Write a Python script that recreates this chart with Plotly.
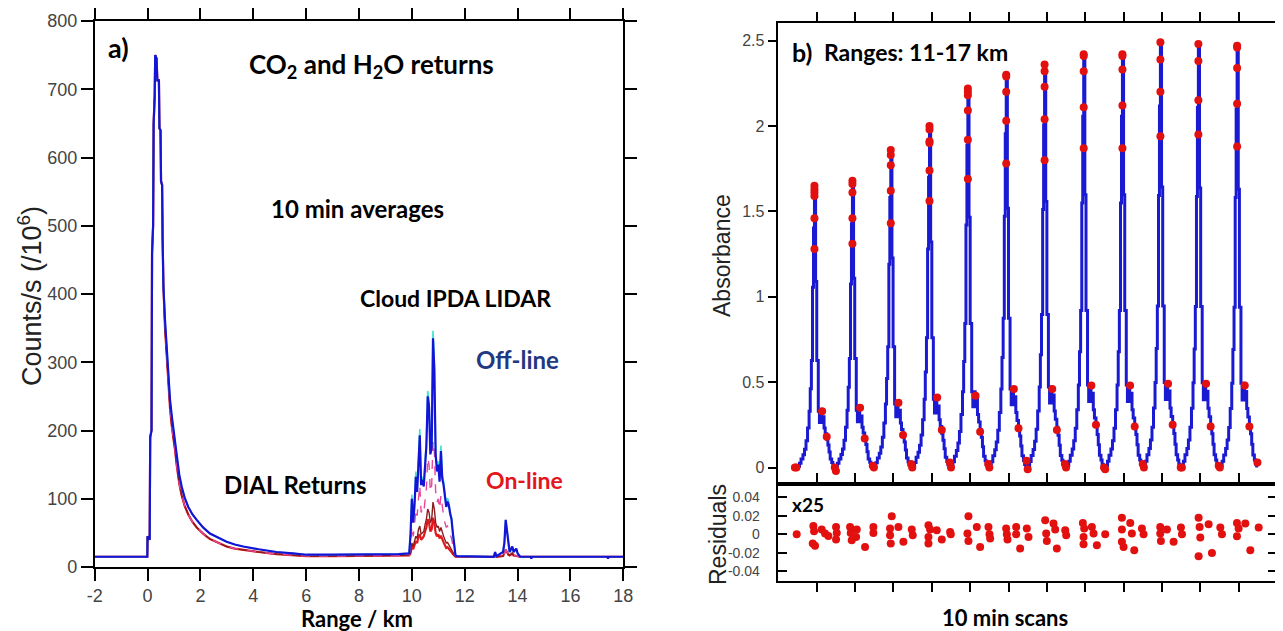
import plotly.graph_objects as go

W, H = 1283, 631          # browser window
OFF = 8                   # page body margin offset
FW, FH = W - OFF, H - OFF  # figure size

# ---------------- Panel a) : lidar returns ----------------
range_dial = [-2.0, -0.01, 0.0, 0.08, 0.10, 0.15, 0.17, 0.21, 0.23, 0.27, 0.29, 0.34, 0.37, 0.43, 0.45, 0.49,
              0.51, 0.55, 0.57, 0.60, 0.66, 0.72, 0.80, 0.85, 0.92, 0.97, 1.05, 1.10, 1.20, 1.29, 1.40, 1.54,
              1.70, 1.86, 2.10, 2.36, 2.70, 2.99, 3.30, 3.62, 4.20, 4.88, 5.50, 6.02, 7.00, 8.00, 9.00, 9.50, 9.90]
offline_dial = [15, 15, 45, 40, 190, 200, 460, 500, 650, 690, 750, 745, 713, 713, 643, 640, 565, 560, 480, 411,
                362, 323, 270, 245, 220, 206, 180, 162, 135, 118, 102, 88, 77, 69, 58, 49, 42, 37, 33, 30,
                26, 22, 20, 18, 18, 18, 18, 19, 20]
online_dial = [15, 15, 45, 40, 190, 200, 460, 500, 650, 690, 750, 745, 713, 713, 643, 640, 565, 560, 480, 411,
               350, 310, 258, 232, 205, 192, 168, 150, 122, 105, 90, 77, 66, 58, 49, 41, 35, 30, 27, 25,
               22, 19, 17, 16, 16, 16, 16, 17, 17]

range_cloud = [9.95, 10.0, 10.05, 10.1, 10.15, 10.2, 10.25, 10.3, 10.35, 10.4, 10.45, 10.5, 10.55, 10.6, 10.65,
               10.7, 10.75, 10.8, 10.85, 10.9, 10.95, 11.0, 11.05, 11.1, 11.15, 11.2, 11.25, 11.3, 11.35, 11.4,
               11.45, 11.5, 11.55, 11.6, 11.65]
offline_cloud = [48, 100, 65, 90, 132, 110, 157, 193, 120, 128, 118, 150, 178, 250, 235, 165, 175, 335, 290, 165,
                 140, 150, 125, 170, 130, 120, 105, 88, 96, 90, 78, 70, 50, 30, 17]
offline2_cloud = [50, 106, 68, 95, 140, 115, 162, 202, 124, 132, 122, 156, 186, 258, 242, 170, 180, 346, 298, 170,
                  145, 155, 130, 178, 135, 125, 108, 92, 101, 94, 81, 72, 52, 31, 17]
online_mag_cloud = [30, 60, 45, 60, 85, 75, 100, 120, 80, 85, 80, 100, 115, 160, 150, 110, 120, 185, 170, 110,
                    95, 100, 85, 105, 85, 75, 65, 58, 60, 55, 48, 42, 32, 22, 16]
online_dark_cloud = [22, 35, 30, 38, 45, 42, 55, 60, 48, 50, 52, 62, 70, 85, 80, 65, 70, 95, 85, 65,
                     58, 60, 52, 58, 50, 45, 40, 35, 36, 33, 30, 27, 22, 18, 15]
online_cloud = [20, 30, 26, 33, 38, 35, 45, 48, 40, 42, 45, 52, 58, 70, 65, 52, 55, 72, 65, 50,
                45, 48, 42, 46, 40, 36, 32, 28, 29, 27, 25, 22, 19, 16, 15]

range_tail = [11.70, 12.50, 13.10, 13.15, 13.20, 13.45, 13.50, 13.55, 13.60, 13.65, 13.70, 13.80, 13.85, 13.95,
              14.00, 14.10, 14.50, 14.52, 14.54, 15.50, 17.40, 17.42, 17.44, 18.00]
offline_tail = [16, 15, 15, 22, 16, 22, 35, 69, 49, 37, 22, 30, 22, 27, 20, 15, 15, 12, 15, 15, 15, 12, 15, 15]
online_tail = [15, 15, 15, 17, 15, 16, 20, 25, 22, 18, 17, 20, 17, 16, 15, 15, 15, 15, 15, 15, 15, 15, 15, 15]

x_ticks_a = [-2, 0, 2, 4, 6, 8, 10, 12, 14, 16, 18]
y_ticks_a = [0, 100, 200, 300, 400, 500, 600, 700, 800]

# ---------------- Panel b) : absorbance scans ----------------
scan_centers = [0.94, 1.93, 2.93, 3.94, 4.94, 5.94, 6.94, 7.96, 8.97, 9.96, 10.95, 11.96]
peak_heights = [1.65, 1.68, 1.86, 2.00, 2.22, 2.30, 2.36, 2.42, 2.42, 2.49, 2.48, 2.47]
profile_offset = [-0.50, -0.44, -0.39, -0.35, -0.30, -0.26, -0.22, -0.18, -0.14, -0.11,
                  -0.08, -0.05, -0.025, 0.0, 0.03, 0.06, 0.10, 0.13, 0.16, 0.19,
                  0.22, 0.25, 0.28, 0.32, 0.35, 0.38, 0.41, 0.45, 0.48, 0.51]
profile_shape = [0.0, 0.005, 0.015, 0.03, 0.045, 0.065, 0.095, 0.14, 0.2, 0.28,
                 0.38, 0.64, 0.85, 1.0, 0.66, 0.38, 0.2, 0.16, 0.2, 0.16,
                 0.18, 0.14, 0.12, 0.1, 0.08, 0.055, 0.03, 0.018, 0.008, 0.0]

start_x = [0.43, 0.47]
start_vals = [0.0, 0.0]
peak_points = [[1.65, 1.63, 1.61, 1.59, 1.46, 1.28],
               [1.68, 1.66, 1.61, 1.46, 1.31],
               [1.86, 1.83, 1.77, 1.62, 1.43],
               [2.00, 1.98, 1.91, 1.90, 1.74, 1.56],
               [2.22, 2.20, 2.18, 2.09, 1.92, 1.69],
               [2.30, 2.29, 2.20, 2.03, 1.78],
               [2.36, 2.32, 2.23, 2.04, 1.80],
               [2.42, 2.41, 2.32, 2.11, 1.87],
               [2.42, 2.41, 2.33, 2.12, 1.87],
               [2.49, 2.39, 2.20, 1.94],
               [2.48, 2.38, 2.15, 1.95],
               [2.47, 2.46, 2.34, 2.13, 1.88]]
shoulder_offsets = [0.20, 0.32]
shoulder_points = [[0.33, 0.18], [0.35, 0.17], [0.38, 0.19], [0.41, 0.22], [0.42, 0.21], [0.46, 0.23],
                   [0.46, 0.22], [0.48, 0.25], [0.48, 0.24], [0.49, 0.25], [0.49, 0.24], [0.48, 0.24]]
end_offsets = [0.53, 0.56]
end_points = [[0.0, -0.02], [0.01, 0.0], [0.02, 0.0], [0.03, 0.0], [0.02, 0.0], [0.04, -0.01],
              [0.02, 0.0], [0.0, -0.01], [0.02, 0.0], [0.0, 0.0], [0.01, 0.0], [0.03]]

resid_x = [0.477, 0.912, 0.930, 0.895, 0.955, 1.129, 1.216, 1.303, 1.503, 1.521, 1.503,
           1.869, 1.886, 1.912, 2.043, 2.025, 2.259, 2.477, 2.477,
           2.955, 2.911, 2.911, 2.929, 3.129, 3.259, 3.477, 3.503,
           3.912, 3.955, 3.912, 3.912, 4.129, 4.260, 4.477, 4.495,
           4.955, 4.929, 4.955, 5.173, 5.260, 5.477, 5.504, 5.521,
           5.938, 5.956, 5.973, 6.199, 6.199, 6.303, 6.477, 6.521,
           6.956, 6.982, 6.999, 7.173, 7.217, 7.260, 7.478, 7.504,
           7.938, 7.973, 7.956, 7.956, 8.173, 8.217, 8.304, 8.521,
           8.956, 8.956, 8.956, 9.000, 9.174, 9.216, 9.278, 9.478, 9.521,
           9.956, 9.956, 9.973, 10.130, 10.304, 10.495, 10.522,
           10.956, 10.982, 11.000, 10.956, 11.217, 11.304, 11.522, 11.565,
           11.956, 11.999, 11.956, 12.174, 12.304, 12.522]
resid_val = [0.0, 0.009, 0.0032, -0.010, -0.0125, 0.005, 0.0007, -0.002, 0.0079, 0.0014, -0.0057,
             0.0079, 0.0014, -0.0065, 0.005, -0.0029, -0.0136, 0.0079, 0.0014,
             0.0194, 0.0061, -0.0011, -0.010, 0.0079, -0.0082, 0.005, -0.0011,
             0.0097, 0.005, -0.0029, -0.010, 0.0043, -0.0057, 0.0025, 0.0,
             0.0194, 0.0007, -0.0072, 0.0079, -0.0136, 0.0079, 0.0, -0.0047,
             0.0061, 0.0, -0.0057, 0.0079, 0.0, -0.0154, 0.0061, -0.0029,
             0.0151, 0.0007, -0.0072, 0.0115, 0.005, -0.0154, 0.0043, -0.0011,
             0.0122, 0.0061, -0.0029, -0.0108, 0.0079, 0.0007, -0.0118, 0.0,
             0.0179, 0.005, -0.0082, -0.0136, 0.0122, 0.0007, -0.0172, 0.0061, 0.0,
             0.0079, 0.0007, -0.0072, 0.005, -0.0082, 0.0072, 0.0,
             0.0179, 0.0079, -0.0036, -0.0237, 0.0108, -0.0201, 0.0072, 0.0,
             0.0122, 0.0061, -0.0022, 0.0115, -0.0172, 0.0072]

abs_ticks = [0, 0.5, 1, 1.5, 2, 2.5]
abs_ticktext = ["0", "0.5", "1", "1.5", "2", "2.5"]
res_ticks = [-0.04, -0.02, 0, 0.02, 0.04]
res_ticktext = ["-0.04", "-0.02", "0", "0.02", "0.04"]
scan_ticks = list(range(1, 13))

# ---------------- build figure ----------------
fig = go.Figure()

def lidar(x, y, color, width=1.6, dash="solid"):
    fig.add_trace(go.Scatter(x=x, y=y, mode="lines", line=dict(color=color, width=width, dash=dash),
                             xaxis="x", yaxis="y", hoverinfo="skip"))

rx = range_dial + range_cloud + range_tail
lidar(rx, online_dial + online_cloud + online_tail, "#e3161b", 2.2)
lidar(rx, online_dial + online_dark_cloud + online_tail, "#8a1d1d", 1.4)
lidar(rx, online_dial + online_mag_cloud + online_tail, "#e8489a", 1.4, "dash")
lidar(rx, offline_dial + offline2_cloud + offline_tail, "#3fe3d0", 1.6)
lidar(rx, offline_dial + offline_cloud + offline_tail, "#1414d6", 2.2)

# absorbance fit line (stepped)
bx, by = [], []
for c, h in zip(scan_centers, peak_heights):
    for o, s in zip(profile_offset, profile_shape):
        bx.append(c + o)
        by.append(h * s)
fig.add_trace(go.Scatter(x=bx, y=by, mode="lines", line=dict(color="#1a1ad2", width=3, shape="hv"),
                         xaxis="x2", yaxis="y2", hoverinfo="skip"))

dx, dy = list(start_x), list(start_vals)
for c, pk, sh, en in zip(scan_centers, peak_points, shoulder_points, end_points):
    for v in pk:
        dx.append(c); dy.append(v)
    for o, v in zip(shoulder_offsets, sh):
        dx.append(c + o); dy.append(v)
    for o, v in zip(end_offsets, en):
        dx.append(c + o); dy.append(v)
fig.add_trace(go.Scatter(x=dx, y=dy, mode="markers", marker=dict(color="#e2100f", size=8),
                         xaxis="x2", yaxis="y2", hoverinfo="skip"))

fig.add_trace(go.Scatter(x=resid_x, y=resid_val, mode="markers", marker=dict(color="#e2100f", size=8),
                         xaxis="x3", yaxis="y3", hoverinfo="skip"))

def px_dom(a, b):
    return [(a - OFF) / FW, (b - OFF) / FW]

def py_dom(top, bottom):
    return [1 - (bottom - OFF) / FH, 1 - (top - OFF) / FH]

tickfont = dict(family="Liberation Sans", size=18, color="#444444")
tickfont_b = dict(family="Liberation Sans", size=16, color="#444444")
tickfont_r = dict(family="Liberation Sans", size=14, color="#444444")
common = dict(showgrid=False, zeroline=False, showline=True, linecolor="black", linewidth=1.6,
              tickcolor="black", tickwidth=1.6, automargin=False)

fig.update_layout(
    width=FW, height=FH, autosize=False,
    margin=dict(l=0, r=0, t=0, b=0, pad=0, autoexpand=False),
    paper_bgcolor="white", plot_bgcolor="white", showlegend=False,
    xaxis=dict(domain=px_dom(94.7, 623.3), range=[-2, 18], tickvals=x_ticks_a,
               ticktext=[str(v) for v in x_ticks_a], ticks="outside", ticklen=12, mirror="ticks",
               tickfont=tickfont, anchor="y", **common),
    yaxis=dict(domain=py_dom(21, 567), range=[0, 800], tickvals=y_ticks_a, ticks="outside", ticklen=12,
               mirror="ticks", tickfont=tickfont, anchor="x", **common),
    xaxis2=dict(domain=px_dom(778.4, 1277), range=[0, 13.0], tickvals=scan_ticks, side="top",
                ticks="outside", ticklen=9, mirror=True, showticklabels=False, anchor="y2", **common),
    yaxis2=dict(domain=py_dom(23, 484.1), range=[-0.097, 2.603], tickvals=abs_ticks, ticktext=abs_ticktext,
                ticks="outside", ticklen=9, mirror="ticks", tickfont=tickfont_b, anchor="x2", **common),
    xaxis3=dict(domain=px_dom(778.4, 1277), range=[0, 13.0], tickvals=scan_ticks, ticks="outside",
                ticklen=9, mirror="ticks", showticklabels=False, anchor="y3", **common),
    yaxis3=dict(domain=py_dom(484.1, 580.7), range=[-0.050, 0.054], tickvals=res_ticks, ticktext=res_ticktext,
                ticks="inside", ticklen=9, mirror="ticks", tickfont=tickfont_r, anchor="x3",
                ticklabelstandoff=14, **common),
)

def ann(text, x, y, size, family="Lato", bold=True, color="black", angle=0, xanchor="center"):
    return dict(text=f"<b>{text}</b>" if bold else text, x=(x - OFF) / FW, y=1 - (y - OFF) / FH,
                xref="paper", yref="paper", showarrow=False,
                font=dict(family=family, size=size, color=color), textangle=angle,
                xanchor=xanchor, yanchor="middle")

annotations = [
    ann("Counts/s (/10<sup>6</sup>)", 30, 296, 27, family="Liberation Sans", bold=False, color="#222222", angle=-90),
    ann("Range / km", 357, 618, 22),
    ann("a)", 106, 48, 27, xanchor="left"),
    ann("CO<sub>2</sub> and H<sub>2</sub>O returns", 372, 66, 26),
    ann("10 min averages", 357, 208, 24),
    ann("Cloud IPDA LIDAR", 455, 298, 23),
    ann("Off-line", 517, 359, 24, color="#1f3a82"),
    ann("On-line", 524, 480, 23, color="#e3161b"),
    ann("DIAL Returns", 295, 484, 24),
    ann("b)", 790, 52, 25, xanchor="left"),
    ann("Ranges: 11-17 km", 822, 52, 23, xanchor="left"),
    ann("Absorbance", 722, 256, 23, family="Liberation Sans", bold=False, color="#222222", angle=-90),
    ann("Residuals", 718, 535, 23, family="Liberation Sans", bold=False, color="#222222", angle=-90),
    ann("x25", 790, 505, 19, xanchor="left"),
    ann("10 min scans", 1005, 617, 22),
]
fig.update_layout(annotations=annotations)

fig.write_html("out.html")
